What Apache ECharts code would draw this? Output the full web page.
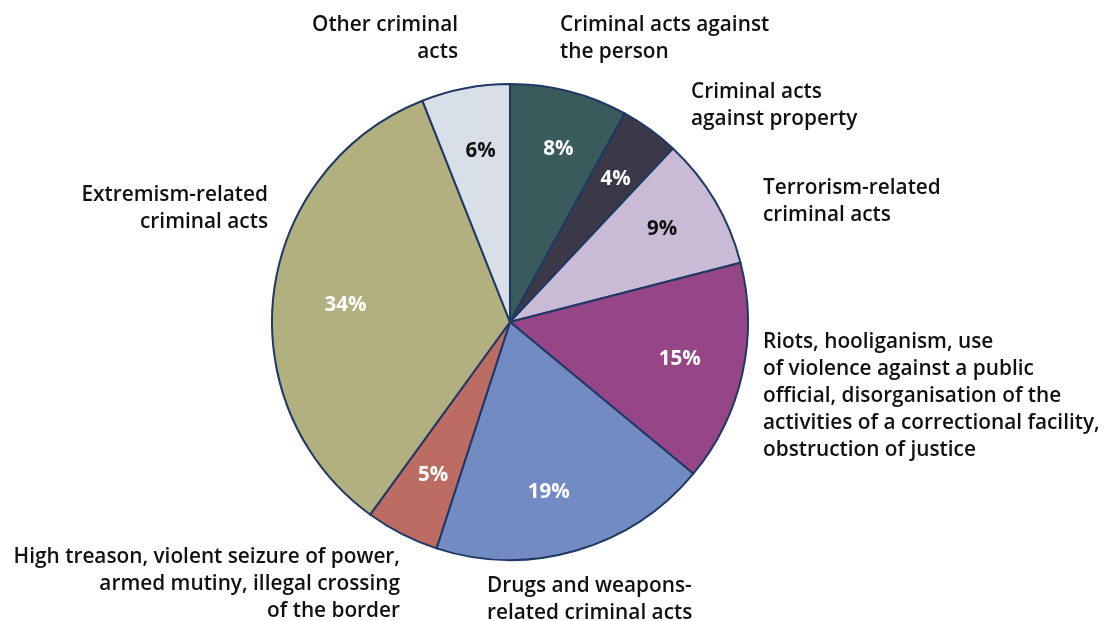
<!DOCTYPE html>
<html>
<head>
<meta charset="utf-8">
<script src="https://cdn.jsdelivr.net/npm/echarts@6/dist/echarts.min.js"></script>
<style>html,body{margin:0;padding:0;background:#fff;}#c{width:1120px;height:621px;}</style>
</head>
<body>
<div id="c"></div>
<script>
const categories = [
  "Criminal acts against\nthe person",
  "Criminal acts\nagainst property",
  "Terrorism-related\ncriminal acts",
  "Riots, hooliganism, use\nof violence against a public\nofficial, disorganisation of the\nactivities of a correctional facility,\nobstruction of justice",
  "Drugs and weapons-\nrelated criminal acts",
  "High treason, violent seizure of power,\narmed mutiny, illegal crossing\nof the border",
  "Extremism-related\ncriminal acts",
  "Other criminal\nacts"
];
const values = [8, 4, 9, 15, 19, 5, 34, 6];
const colors = ["#3a5b5c", "#3b3848", "#c9bbd5", "#964687", "#728bc3", "#bd6c64", "#b2b07f", "#d8dfe9"];
const innerTextColors = ["#fff", "#fff", "#111", "#fff", "#fff", "#fff", "#fff", "#111"];
// outside label anchors: [x, top, align]
const labelAnchors = [
  [560, 12, "left"], [691, 79, "left"], [763, 175, "left"], [763, 329, "left"],
  [487, 573, "left"], [400, 544, "right"], [268, 182, "right"], [458, 12, "right"]
];
// small nudges of the in-slice percentage labels: [dx, dy]
const innerNudges = [[4, 0], [1, 1], [-1, -2], [-4, -2], [-11, -1], [4, -5], [12, 5], [4, 4]];
const FONT = "Open Sans";
const chart = echarts.init(document.getElementById('c'));
const center = [510, 322];
chart.setOption({
  animation: false,
  series: [
    {
      type: 'pie',
      center: center,
      radius: [0, 238],
      startAngle: 90,
      clockwise: true,
      silent: true,
      data: categories.map((n, i) => ({
        name: n, value: values[i],
        itemStyle: { color: colors[i] }
      })),
      itemStyle: { borderColor: '#1f3864', borderWidth: 2 },
      label: {
        show: true, position: 'outside', alignTo: 'none',
        formatter: '{b}', overflow: 'none', width: 500,
        color: '#111', fontFamily: FONT, fontWeight: 600, fontSize: 20.8, lineHeight: 27
      },
      labelLine: { show: false },
      labelLayout: function (p) {
        const a = labelAnchors[p.dataIndex];
        return { x: a[0], y: a[1], align: a[2], verticalAlign: 'top' };
      }
    },
    {
      type: 'pie',
      center: center,
      radius: [112, 238],
      startAngle: 90,
      clockwise: true,
      silent: true,
      z: 3,
      data: categories.map((n, i) => ({
        name: n, value: values[i],
        itemStyle: { color: 'rgba(0,0,0,0)' },
        label: { color: innerTextColors[i] }
      })),
      itemStyle: { borderWidth: 0 },
      label: {
        show: true, position: 'inside',
        formatter: '{c}%',
        fontFamily: FONT, fontWeight: 'bold', fontSize: 20.5
      },
      labelLine: { show: false },
      labelLayout: function (p) {
        const d = innerNudges[p.dataIndex];
        return { dx: d[0], dy: d[1] };
      }
    }
  ]
});
</script>
</body>
</html>
